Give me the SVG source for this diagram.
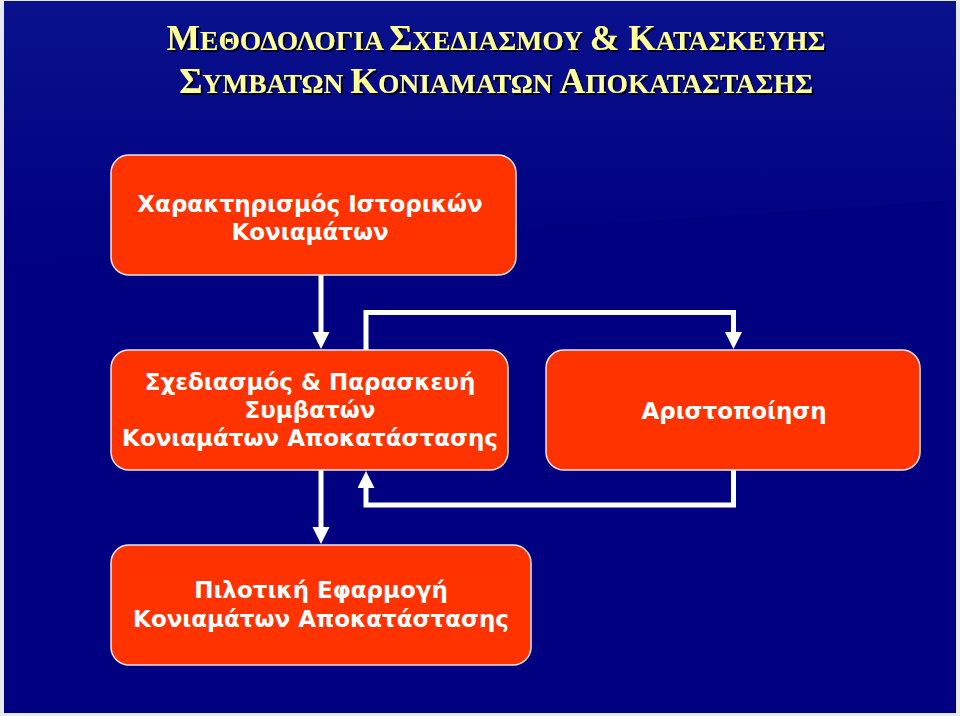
<svg xmlns="http://www.w3.org/2000/svg" width="960" height="716" viewBox="0 0 960 716">
  <style>
    .box { fill: #ff3300; stroke: #f2e6e6; stroke-width: 1.5; }
    .lbl { font-family: "DejaVu Sans", Verdana, sans-serif; font-weight: bold; font-size: 23px; fill: #ffffff; text-anchor: middle; }
    .title { font-family: "Liberation Serif", "Times New Roman", serif; font-weight: bold; fill: #ffff99; text-anchor: middle; }
    .big { font-size: 35.5px; }
    .sm { font-size: 27.5px; }
    .conn { fill: none; stroke: #ffffff; stroke-width: 5; marker-end: url(#ah); }
  </style>
  <defs>
    <marker id="ah" markerUnits="userSpaceOnUse" markerWidth="18" markerHeight="18" refX="1" refY="8.5" orient="auto">
      <path d="M0,0 L17,8.5 L0,17 Z" fill="#ffffff"/>
    </marker>
    <linearGradient id="topg" x1="0" y1="0" x2="0" y2="1">
      <stop offset="0" stop-color="#14239a"/>
      <stop offset="1" stop-color="#000080"/>
    </linearGradient>
    <filter id="sh" x="-5%" y="-20%" width="110%" height="140%">
      <feDropShadow dx="2" dy="2" stdDeviation="0.6" flood-color="#000000" flood-opacity="0.9"/>
    </filter>
  </defs>
  <rect x="0" y="0" width="960" height="716" fill="#e8e8f0"/>
  <rect x="4" y="1" width="952" height="712" fill="#000080"/>
  <polygon points="4,1 956,1 956,200 4,265" fill="url(#topg)" opacity="0.5"/>

  <g id="title" filter="url(#sh)">
    <text class="title" x="496" y="50"><tspan class="big">Μ</tspan><tspan class="sm">ΕΘΟΔΟΛΟΓΙΑ </tspan><tspan class="big">Σ</tspan><tspan class="sm">ΧΕΔΙΑΣΜΟΥ </tspan><tspan class="big">&amp; Κ</tspan><tspan class="sm">ΑΤΑΣΚΕΥΗΣ</tspan></text>
    <text class="title" x="496" y="93"><tspan class="big">Σ</tspan><tspan class="sm">ΥΜΒΑΤΩΝ </tspan><tspan class="big">Κ</tspan><tspan class="sm">ΟΝΙΑΜΑΤΩΝ </tspan><tspan class="big">Α</tspan><tspan class="sm">ΠΟΚΑΤΑΣΤΑΣΗΣ</tspan></text>
  </g>

  <g id="connectors">
    <path class="conn" d="M321,275 V333"/>
    <path class="conn" d="M366,350 V312.5 H733.5 V333"/>
    <path class="conn" d="M733.5,470 V505 H366 V487"/>
    <path class="conn" d="M321,470 V528"/>
  </g>

  <g id="n1">
    <rect class="box" x="111" y="155" width="405" height="120" rx="18"/>
    <text class="lbl" x="310" y="212">Χαρακτηρισμός Ιστορικών</text>
    <text class="lbl" x="310" y="240">Κονιαμάτων</text>
  </g>
  <g id="n2">
    <rect class="box" x="111" y="350" width="397" height="120" rx="18"/>
    <text class="lbl" x="310" y="390">Σχεδιασμός &amp; Παρασκευή</text>
    <text class="lbl" x="310" y="418">Συμβατών</text>
    <text class="lbl" x="310" y="446">Κονιαμάτων Αποκατάστασης</text>
  </g>
  <g id="n3">
    <rect class="box" x="546" y="350" width="374" height="120" rx="18"/>
    <text class="lbl" x="734" y="419">Αριστοποίηση</text>
  </g>
  <g id="n4">
    <rect class="box" x="111" y="545" width="420" height="120" rx="18"/>
    <text class="lbl" x="321" y="598">Πιλοτική Εφαρμογή</text>
    <text class="lbl" x="321" y="627">Κονιαμάτων Αποκατάστασης</text>
  </g>
</svg>
